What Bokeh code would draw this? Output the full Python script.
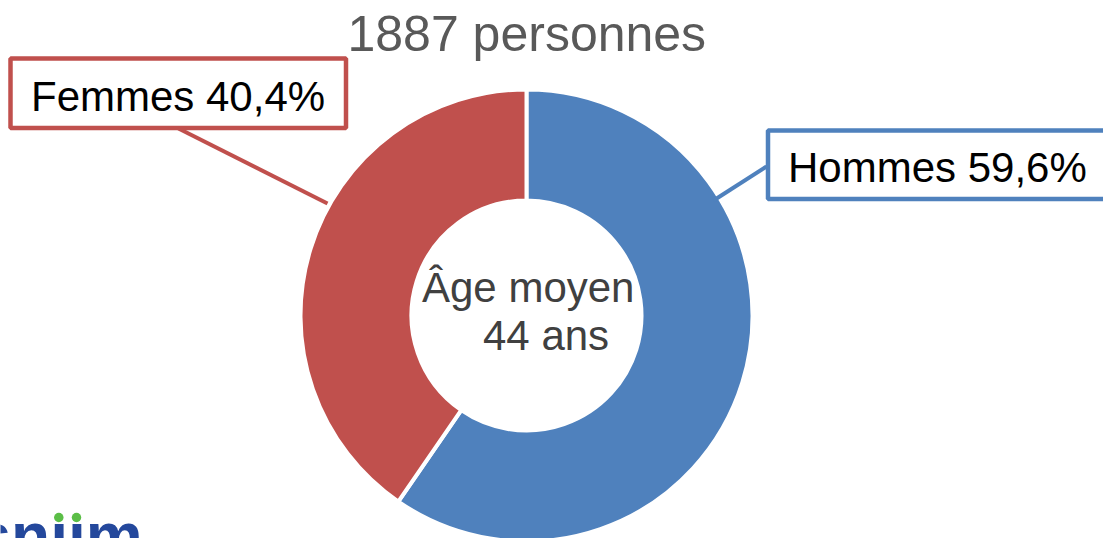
import math
from bokeh.plotting import figure
from bokeh.models import Range1d, Label, ColumnDataSource
from bokeh.embed import file_html
from bokeh.resources import INLINE

# ---- data ----
categories = ["Hommes", "Femmes"]
percentages = [59.6, 40.4]
colors = ["#4F81BD", "#C0504D"]
total_personnes = 1887
age_moyen = 44

W, H = 1103, 538
p = figure(width=W, height=H, output_backend="svg", toolbar_location=None,
           x_range=Range1d(0, W), y_range=Range1d(0, H),
           min_border=0, outline_line_color=None)
p.axis.visible = False
p.grid.visible = False
p.background_fill_color = "white"
p.border_fill_color = "white"

def sy(y):  # screen y -> data y
    return H - y

FONT = "Liberation Sans"
K = 0.35  # baseline compensation (em)

def label(x, baseline, text, size, color, **kw):
    p.add_layout(Label(x=x, y=sy(baseline - K * size), text=text,
                       text_font=FONT, text_font_size=f"{size}px", text_color=color,
                       text_baseline="alphabetic", text_align="left", **kw))

# ---- donut ----
cx, cy = 526, sy(315)
r_out, r_in = 226, 115
bounds = [math.radians(90)]
for pct in percentages:
    bounds.append(bounds[-1] - 2 * math.pi * pct / 100)
src = ColumnDataSource(dict(
    start=[bounds[i + 1] for i in range(len(categories))],
    end=[bounds[i] for i in range(len(categories))],
    color=colors, cat=categories))
p.annular_wedge(x=cx, y=cy, inner_radius=r_in, outer_radius=r_out,
                start_angle="start", end_angle="end", fill_color="color",
                line_color="white", line_width=4, source=src)

# ---- leader lines ----
p.line([178, 327], [sy(128), sy(203)], line_color=colors[1], line_width=4)
p.line([766, 713], [sy(166), sy(200)], line_color=colors[0], line_width=4)

# ---- label boxes ----
p.quad(left=[10], right=[345.5], top=[sy(58)], bottom=[sy(127.5)],
       fill_color="white", line_color=colors[1], line_width=4.5)
p.quad(left=[767.5], right=[1115], top=[sy(130)], bottom=[sy(198.5)],
       fill_color="white", line_color=colors[0], line_width=4.5)

def fmt(cat, pct):
    return f"{cat} {pct:.1f}%".replace(".", ",")

label(30.5, 110.7, fmt(categories[1], percentages[1]), 42, "black")
label(787.5, 181.7, fmt(categories[0], percentages[0]), 42, "black")

# ---- title ----
label(347, 51, f"{total_personnes} personnes", 50, "#595959")

# ---- center text ----
label(421.5, 302, "Âge moyen", 42, "#404040")
label(482.5, 350, f"{age_moyen} ans", 42, "#404040")

# ---- logo (partially visible) ----
label(-25, 558, "sn\u0131\u0131m", 64, "#24489C", text_font_style="bold")
p.scatter([58.3, 76], [sy(517), sy(517)], size=9.5, marker="circle",
          fill_color="#5BBE47", line_color=None)

open("out.html", "w").write(file_html(p, INLINE))
